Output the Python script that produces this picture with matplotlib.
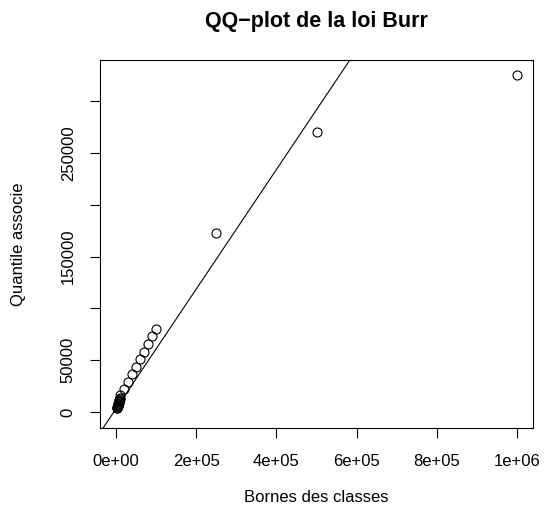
import matplotlib
matplotlib.use("Agg")
import matplotlib.pyplot as plt
import numpy as np

plt.rcParams['font.family'] = ['Liberation Sans', 'DejaVu Sans']

# bornes des classes / quantiles de la loi Burr
bornes = np.array([2000, 3000, 3500, 4000, 4500, 5000, 5500, 6000, 6500, 7000,
                   7500, 8000, 8500, 9000, 9500,
                   10000, 20000, 30000, 40000, 50000, 60000, 70000, 80000, 90000, 100000,
                   250000, 500000, 1000000])
quantiles = np.array([3500, 4200, 4800, 5400, 6000, 6700, 7300, 8000, 8700, 9400,
                      10200, 11000, 11900, 12800, 13700,
                      16400, 22200, 28900, 36700, 43400, 51100, 57900, 65600, 73300, 80100,
                      172800, 270300, 325300])

line_intercept = 3280
line_slope = 0.577

xticks = [0, 200000, 400000, 600000, 800000, 1000000]
xticklabels = ["0e+00", "2e+05", "4e+05", "6e+05", "8e+05", "1e+06"]
yticks = [0, 50000, 100000, 150000, 200000, 250000, 300000]
yticklabels = ["0", "50000", "", "150000", "", "250000", ""]

W, H = 545, 516
fig = plt.figure(figsize=(W / 100, H / 100), dpi=100)
ax = fig.add_axes([100 / W, 1 - 428 / H, (533 - 100) / W, (428 - 60) / H])

ax.plot(bornes, quantiles, linestyle="none", marker="o", markersize=6.5,
        markerfacecolor="none", markeredgecolor="black", markeredgewidth=0.8)
ax.axline((0, line_intercept), slope=line_slope, color="black", linewidth=0.8)

ax.set_xlim(-40000, 1040000)
ax.set_ylim(-15400, 339800)

ax.set_xticks(xticks)
ax.set_xticklabels(xticklabels)
ax.set_yticks(yticks)
ax.set_yticklabels(yticklabels, rotation=90, va="center")
ax.tick_params(axis="both", direction="out", length=7.5, width=0.8, labelsize=12, pad=10)
ax.tick_params(axis="x", pad=11)
for s in ax.spines.values():
    s.set_linewidth(0.8)

fig.text(316 / W, 1 - 22 / H, "QQ\u2212plot de la loi Burr", ha="center", va="center",
         fontsize=15.5, fontweight="bold")
fig.text(316 / W, 1 - 497 / H, "Bornes des classes", ha="center", va="center", fontsize=12)
fig.text(19 / W, 1 - 244 / H, "Quantile associe", ha="center", va="center",
         rotation=90, fontsize=12)

fig.savefig("out.png", dpi=100)
